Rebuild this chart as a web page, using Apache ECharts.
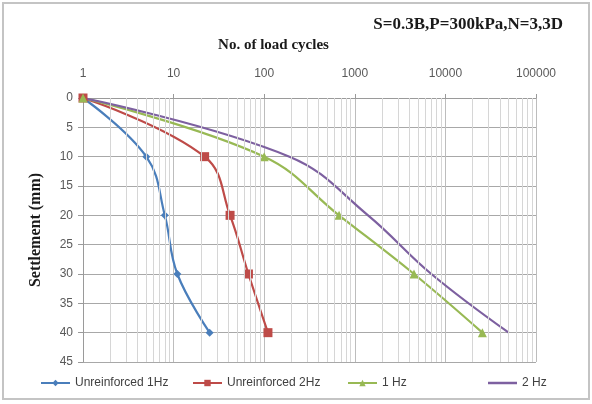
<!DOCTYPE html>
<html>
<head>
<meta charset="utf-8">
<script src="https://cdn.jsdelivr.net/npm/echarts@6/dist/echarts.min.js"></script>
<style>
  html, body { margin: 0; padding: 0; background: #fff; }
  #main { width: 592px; height: 404px; }
</style>
</head>
<body>
<div id="main"></div>
<script>
// settlement levels (mm) shared by all series
const settlement = [0, 10, 20, 30, 40];
// number of load cycles at each settlement level
const cyclesUnr1Hz = [1, 5, 8, 11, 25];
const cyclesUnr2Hz = [1, 22, 42, 67, 110];
const cycles1Hz = [1, 100, 670, 4500, 25600];
const cycles2Hz = [1, 190, 1400, 7000, 50000];
const seriesNames = ['Unreinforced 1Hz', 'Unreinforced 2Hz', '1 Hz', '2 Hz'];
const xTicks = [1, 10, 100, 1000, 10000, 100000];

// light log grid lines at 2..9 of every decade
let minorLines = [];
for (let d = 1; d < 100000; d *= 10) {
  for (let k = 2; k <= 9; k++) minorLines.push({ xAxis: k * d });
}

function pairs(xs) {
  return xs.map((x, i) => [x, settlement[i]]);
}

const serifBold = { fontFamily: 'Liberation Serif', fontWeight: 'bold', color: '#1a1a1a' };
const legendText = { fontFamily: 'Liberation Sans', fontSize: 12, color: '#404040' };

function legendAt(name, left, plain) {
  let lg = {
    data: [name],
    left: left,
    top: 377,
    padding: 0,
    itemWidth: 29,
    itemHeight: 8,
    textStyle: legendText,
    selectedMode: false
  };
  // series without markers: just a line in the legend
  if (plain) {
    lg.icon = 'rect';
    lg.itemHeight = 2.5;
  }
  return lg;
}

let option = {
  animation: false,
  color: ['#4a7ebb', '#be4b48', '#98b954', '#7d60a0'],
  title: {
    text: 'S=0.3B,P=300kPa,N=3,3D',
    right: 24,
    top: 11,
    textStyle: Object.assign({ fontSize: 17 }, serifBold)
  },
  legend: [
    legendAt(seriesNames[0], 40),
    legendAt(seriesNames[1], 192),
    legendAt(seriesNames[2], 347),
    legendAt(seriesNames[3], 488, true)
  ],
  graphic: [{
    type: 'rect',
    shape: { x: 3, y: 3, width: 586, height: 396 },
    style: { fill: 'none', stroke: '#c4c4c4', lineWidth: 2 },
    silent: true
  }],
  grid: {
    left: 83,
    right: 56,
    top: 98,
    bottom: 42
  },
  xAxis: {
    type: 'log',
    logBase: 10,
    min: 1,
    max: 100000,
    position: 'top',
    name: 'No. of load cycles',
    nameLocation: 'middle',
    nameGap: 45,
    nameTextStyle: Object.assign({ fontSize: 15, padding: [0, 72, 0, 0] }, serifBold),
    axisLine: { show: true, lineStyle: { color: '#9a9a9a' } },
    axisTick: { show: true, length: 4, lineStyle: { color: '#9a9a9a' } },
    axisLabel: {
      margin: 18,
      fontFamily: 'Liberation Sans',
      fontSize: 12,
      color: '#595959',
      formatter: function (v) {
        let r = Math.round(v);
        return xTicks.indexOf(r) >= 0 ? String(r) : '';
      }
    },
    splitLine: { show: true, lineStyle: { color: '#bdbdbd' } }
  },
  yAxis: {
    type: 'value',
    inverse: true,
    min: 0,
    max: 45,
    interval: 5,
    name: 'Settlement (mm)',
    nameLocation: 'middle',
    nameGap: 39,
    nameRotate: 90,
    nameTextStyle: Object.assign({ fontSize: 16 }, serifBold),
    axisLine: { show: true, lineStyle: { color: '#9a9a9a' } },
    axisTick: { show: true, length: 5, lineStyle: { color: '#9a9a9a' } },
    axisLabel: {
      margin: 10,
      fontFamily: 'Liberation Sans',
      fontSize: 12,
      color: '#595959'
    },
    splitLine: { show: true, lineStyle: { color: '#a8a8a8' } }
  },
  series: [
    {
      name: seriesNames[0],
      type: 'line',
      smooth: 0.4,
      data: pairs(cyclesUnr1Hz),
      symbol: 'diamond',
      symbolSize: 8,
      lineStyle: { width: 2.2 },
      z: 3
    },
    {
      name: seriesNames[1],
      type: 'line',
      smooth: 0.4,
      data: pairs(cyclesUnr2Hz),
      symbol: 'rect',
      symbolSize: 9,
      lineStyle: { width: 2.2 },
      z: 3
    },
    {
      name: seriesNames[2],
      type: 'line',
      smooth: 0.4,
      data: pairs(cycles1Hz),
      symbol: 'triangle',
      symbolSize: 9,
      lineStyle: { width: 2.2 },
      z: 3
    },
    {
      name: seriesNames[3],
      type: 'line',
      smooth: 0.4,
      data: pairs(cycles2Hz),
      symbol: 'none',
      lineStyle: { width: 2.2 },
      z: 3
    },
    {
      // helper: minor log grid
      name: 'minor',
      type: 'line',
      data: [],
      silent: true,
      z: 1,
      markLine: {
        silent: true,
        symbol: ['none', 'none'],
        label: { show: false },
        lineStyle: { color: '#d6d6d6', type: 'solid', width: 1 },
        emphasis: { disabled: true },
        data: minorLines
      }
    }
  ]
};

let chart = echarts.init(document.getElementById('main'), null, { renderer: 'canvas' });
chart.setOption(option);
</script>
</body>
</html>
